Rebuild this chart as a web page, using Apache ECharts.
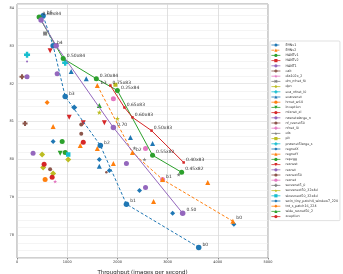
<!DOCTYPE html>
<html><head><meta charset="utf-8">
<script src="https://cdn.jsdelivr.net/npm/echarts@6/dist/echarts.min.js"></script>
<style>html,body{margin:0;padding:0;background:#fff}#c{width:343px;height:274px}</style>
</head><body><div id="c"></div>
<script>
// ---- data ----
const seriesNames = ['EffNv1','EffNv2','HANTv1','HANTv2','HANT1','cait','dla102x_2','dm_nfnet_f0','dpn','eca_nfnet_l0',
 'ecaresnet','hrnet_w64','inception','mixnet_xl','nasnetalarge_n','nf_resnet50','nfnet_l0','ofa','pit','pnasnet5large_s',
 'regnetX','regnetY','repvgg','resnest','resnet','resnext50','rexnet','seresnet5_0','seresnext50_32x4d','skresnext50_32x4d',
 'swin_tiny_patch4_window7_224','tnt_s_patch16_224','wide_resnet50_2','xception'];
const xTicks = [0,1000,2000,3000,4000,5000];
const yTicks = [78,79,80,81,82,83,84];

const effv1X = [520, 720, 960, 1660, 2180, 3620];
const effv1Y = [83.79, 83.0, 81.66, 80.37, 78.82, 77.68];
const effv1Lbl = ['b5','b4','b3','b2','b1','b0'];
const effv2X = [1600, 2300, 2900, 4300];
const effv2Y = [81.95, 80.18, 79.47, 78.37];
const effv2Lbl = ['b3','b2','b1','b0'];
const hant1X = [440, 920, 1580, 2000, 2700, 3280];
const hant1Y = [83.76, 82.66, 82.13, 81.82, 80.11, 79.66];
const hant1Lbl = ['0.60x84','0.50x84','0.30x84','0.25x84','0.55x82','0.45x82'];
const hant2X = [1860, 2140, 2300, 2680, 3320];
const hant2Y = [81.95, 81.37, 81.11, 80.76, 79.92];
const hant2Lbl = ['0.75x83','0.65x83','0.60x83','0.50x83','0.40x83'];
const hant3X = [480, 780, 1920, 3300];
const hant3Y = [83.68, 83.0, 80.84, 78.58];
const hant3Lbl = ['', '', '0.70', '0.50'];

const caitPts = [[100,82.18],[160,80.95]];
const dlaPts = [[760,79.42]];
const dmnfPts = [[560,83.32]];
const dpnPts = [[500,80.13],[1020,80.0],[720,79.63],[520,79.79]];
const ecanfPts = [[200,82.76],[960,82.55]];
const ecaresPts = [[1080,82.32],[1380,82.13],[2260,80.58],[2700,80.42],[1640,79.82]];
const hrnetPts = [[560,79.47]];
const inceptionPts = [[860,80.16]];
const mixnetPts = [[540,79.87],[700,79.53]];
const nasnetPts = [[200,82.58]];
const nfres50Pts = [[1780,79.66]];
const nfnetPts = [];
const ofaPts = [[2540,80.0],[3220,79.6],[2340,80.3]];
const pitPts = [[1960,81.97]];
const pnasPts = [];
const regnetXPts = [[720,80.47],[1640,80.0],[1840,79.71],[2440,79.18],[3100,78.58],[4320,78.29]];
const regnetYPts = [[720,80.87],[1260,80.37],[1600,80.29],[1920,79.89],[2720,78.89],[3800,79.39]];
const repvggPts = [[900,80.47],[960,80.18]];
const resnestPts = [[660,82.87],[1040,81.11],[1320,80.97],[1740,80.97]];
const resnetPts = [[800,82.26],[200,82.18],[320,80.16],[2180,79.89],[2560,79.26]];
const resnext50Pts = [[1280,80.92],[660,79.74],[1280,80.68]];
const rexnetPts = [[1920,81.6],[2560,80.29],[2900,79.47]];
const seresPts = [[560,83.32]];
const seresnextPts = [[1640,81.24],[2000,81.08]];
const skresPts = [[1020,80.13]];
const swinPts = [[1140,81.37]];
const tntPts = [[600,81.5]];
const widePts = [[1640,81.42]];
const xceptionPts = [[1320,80.45]];

// ---- styling ----
const tab10 = ['#1f77b4','#ff7f0e','#2ca02c','#d62728','#9467bd','#8c564b','#e377c2','#7f7f7f','#bcbd22','#17becf'];
const PLUS = 'path://M3,0H7V3H10V7H7V10H3V7H0V3H3Z';
const STAR = 'path://M5,0L6.2,3.6L10,3.6L7,5.9L8.1,9.5L5,7.3L1.9,9.5L3,5.9L0,3.6L3.8,3.6Z';
const XS = 'path://M0,2L2,0L5,3L8,0L10,2L7,5L10,8L8,10L5,7L2,10L0,8L3,5Z';
const DOWN = 'path://M0,0L10,0L5,9Z';

function lbl(x, y, t) {
  const it = {value: [x, y]};
  if (t) it.label = {show: true, formatter: t};
  return it;
}
function lineSeries(i, xs, ys, ls, sym, size, dashed) {
  return {
    name: seriesNames[i], type: 'line', data: xs.map((x, k) => lbl(x, ys[k], ls[k])),
    symbol: sym, symbolSize: size, showAllSymbol: true,
    lineStyle: {width: 1, type: dashed ? [3, 2] : 'solid', color: tab10[i % 10]},
    itemStyle: {color: tab10[i % 10]},
    label: {show: false, position: 'right', distance: 1, offset: [0, -3], fontSize: 4.5, color: '#333', fontFamily: 'DejaVu Sans'},
    emphasis: {disabled: true}, z: 3
  };
}
function ptSeries(i, pts, sym, size, rot) {
  return {
    name: seriesNames[i], type: 'line', data: pts,
    symbol: sym, symbolSize: size, symbolRotate: rot || 0, showAllSymbol: true,
    lineStyle: {width: 0, opacity: 0, color: tab10[i % 10]},
    itemStyle: {color: tab10[i % 10]},
    emphasis: {disabled: true}, z: 2
  };
}

const series = [
  lineSeries(0, effv1X, effv1Y, effv1Lbl, 'circle', 5.5, true),
  lineSeries(1, effv2X, effv2Y, effv2Lbl, 'triangle', 5, true),
  lineSeries(2, hant1X, hant1Y, hant1Lbl, 'circle', 5, false),
  lineSeries(3, hant2X, hant2Y, hant2Lbl, 'rect', 2.5, false),
  lineSeries(4, hant3X, hant3Y, hant3Lbl, 'circle', 5.5, false),
  ptSeries(5, caitPts, PLUS, 5),
  ptSeries(6, dlaPts, STAR, 4),
  ptSeries(7, dmnfPts, XS, 4.5),
  ptSeries(8, dpnPts, 'diamond', 6),
  ptSeries(9, ecanfPts, PLUS, 6),
  ptSeries(10, ecaresPts, 'triangle', 5),
  ptSeries(11, hrnetPts, 'circle', 5),
  ptSeries(12, inceptionPts, DOWN, 5),
  ptSeries(13, mixnetPts, 'circle', 5),
  ptSeries(14, nasnetPts, 'circle', 2),
  ptSeries(15, nfres50Pts, 'circle', 2.5),
  ptSeries(16, nfnetPts, PLUS, 5),
  ptSeries(17, ofaPts, STAR, 4),
  ptSeries(18, pitPts, 'rect', 4),
  ptSeries(19, pnasPts, PLUS, 6),
  ptSeries(20, regnetXPts, 'diamond', 5),
  ptSeries(21, regnetYPts, 'triangle', 5),
  ptSeries(22, repvggPts, 'circle', 5),
  ptSeries(23, resnestPts, DOWN, 5),
  ptSeries(24, resnetPts, 'circle', 5),
  ptSeries(25, resnext50Pts, 'circle', 4),
  ptSeries(26, rexnetPts, 'circle', 5),
  ptSeries(27, seresPts, PLUS, 4),
  ptSeries(28, seresnextPts, STAR, 5),
  ptSeries(29, skresPts, 'rect', 4.5),
  ptSeries(30, swinPts, 'diamond', 6),
  ptSeries(31, tntPts, 'diamond', 5),
  ptSeries(32, widePts, 'triangle', 5),
  ptSeries(33, xceptionPts, 'circle', 5)
];

const chart = echarts.init(document.getElementById('c'), null, {renderer: 'canvas'});
const light = '#ececec', dark = '#d8d8d8';
chart.setOption({
  animation: false,
  backgroundColor: '#fff',
  textStyle: {fontFamily: 'DejaVu Sans'},
  grid: {left: 17, right: 75, top: 4, bottom: 16, show: true, borderColor: '#888', borderWidth: 0.8,
         backgroundColor: 'transparent', containLabel: false, outerBoundsMode: 'none'},
  xAxis: {
    type: 'value', min: 0, max: 5000, interval: 1000,
    name: 'Throughput (images per second)', nameLocation: 'middle', nameGap: 5,
    nameTextStyle: {fontSize: 5.5, color: '#222'},
    axisLine: {show: false}, axisTick: {show: true, length: 1.5, lineStyle: {color: '#888'}},
    axisLabel: {fontSize: 3.5, color: '#333', margin: 2.5, formatter: v => xTicks.includes(v) ? String(v) : ''},
    splitLine: {show: true, lineStyle: {color: dark, width: 0.8}}
  },
  yAxis: {
    type: 'value', min: 77.4, max: 84.1, interval: 0.2,
    name: 'Accuracy, top-1', nameLocation: 'middle', nameGap: 10,
    nameTextStyle: {fontSize: 5.5, color: '#222'},
    axisLine: {show: false}, axisTick: {show: false},
    axisLabel: {fontSize: 3.5, color: '#333', margin: 3,
      formatter: v => { const r = Math.round(v); return (Math.abs(v - r) < 1e-6 && yTicks.includes(r)) ? String(r) : ''; }},
    splitLine: {show: true, lineStyle: {color: [light, light, light, dark, light], width: 0.6}}
  },
  legend: {
    orient: 'vertical', left: 270, top: 41,
    itemWidth: 9, itemHeight: 4, itemGap: 1.2,
    padding: [2, 2, 2, 1],
    borderColor: '#ccc', borderWidth: 0.6, borderRadius: 1, backgroundColor: '#fff',
    textStyle: {fontSize: 3.3, color: '#333', lineHeight: 4},
    lineStyle: {width: 0.8, opacity: 1},
    selectedMode: false,
    data: seriesNames
  },
  series: series
});
</script></body></html>
